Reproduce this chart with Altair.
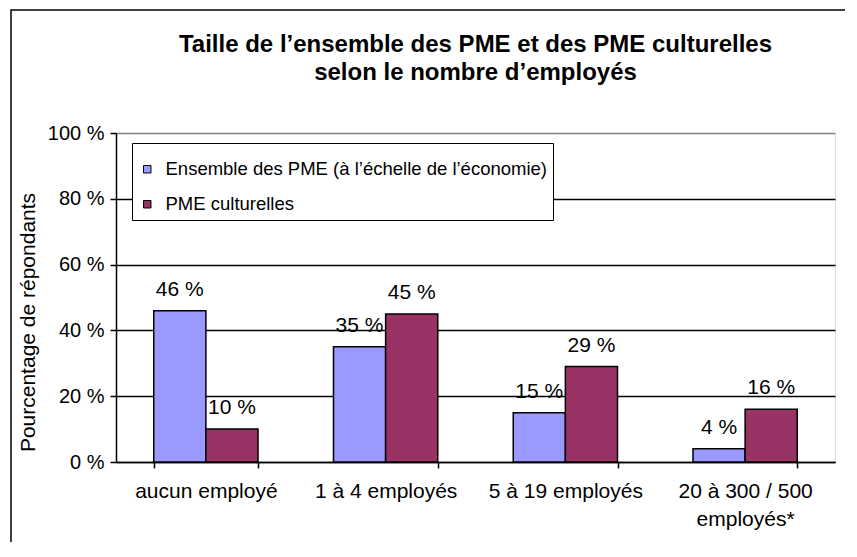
import altair as alt
import pandas as pd

categories = ["aucun employé", "1 à 4 employés", "5 à 19 employés", "20 à 300 / 500 employés*"]
series = ["Ensemble des PME (à l’échelle de l’économie)", "PME culturelles"]
ensemble = [46, 35, 15, 4]
culturelles = [10, 45, 29, 16]
y_ticks = [0, 20, 40, 60, 80, 100]
colors = ["#9999FF", "#993366"]

rows = []
for s, vals in zip(series, [ensemble, culturelles]):
    for c, v in zip(categories, vals):
        rows.append({"cat": c, "serie": s, "val": v, "lbl": f"{v} %"})
df = pd.DataFrame(rows)

FONT = "Liberation Sans"
FS = 20

x_enc = alt.X(
    "cat:N", sort=categories, title=None,
    scale=alt.Scale(paddingInner=0.42, paddingOuter=0.21),
    axis=alt.Axis(
        tickBand="extent", labelAngle=0, grid=False,
        domainColor="black", domainWidth=1.5,
        tickColor="black", tickSize=6, tickWidth=1.5,
        labelFontSize=21, labelFont=FONT, labelColor="black",
        labelPadding=12, labelLineHeight=28, labelLimit=0,
        labelExpr="indexof(datum.label, '/') > 0 ? ['20 à 300 / 500', 'employés*'] : datum.label",
    ),
)
xo_enc = alt.XOffset("serie:N", sort=series, scale=alt.Scale(paddingInner=0))
y_enc = alt.Y(
    "val:Q", scale=alt.Scale(domain=[0, 100], nice=False),
    axis=alt.Axis(
        values=y_ticks, labelExpr="datum.value + ' %'",
        grid=True,
        gridColor={"condition": {"test": "datum.value >= 100", "value": "#808080"}, "value": "black"},
        gridWidth=1.5,
        domainColor="black", domainWidth=1.5,
        tickColor="black", tickSize=6, tickWidth=1.5,
        labelFontSize=FS, labelFont=FONT, labelColor="black", labelPadding=6,
        title="Pourcentage de répondants", titleFontSize=21, titleFont=FONT,
        titleFontWeight="normal", titleColor="black",
        titleX=-88, titleY=189, titleAngle=270, titleAlign="center", titleBaseline="middle",
    ),
)

base = alt.Chart(df)

bars = base.mark_bar(stroke="black", strokeWidth=1.5).encode(
    x=x_enc, xOffset=xo_enc, y=y_enc,
    color=alt.Color(
        "serie:N", sort=series,
        scale=alt.Scale(domain=series, range=colors),
        legend=alt.Legend(
            orient="none", legendX=16, legendY=10, title=" ",
            titleFontSize=1, titlePadding=10,
            strokeColor="black", fillColor="white", padding=6, rowPadding=16,
            symbolType="square", symbolSize=56, symbolStrokeColor="black",
            symbolStrokeWidth=1, labelFontSize=18.5, labelFont=FONT,
            labelColor="black", labelOffset=9, labelLimit=0,
        ),
    ),
)

labels = base.mark_text(dy=-15, baseline="alphabetic", fontSize=21, font=FONT, color="black").encode(
    x=x_enc, xOffset=xo_enc, y=y_enc, text="lbl:N"
)

border = alt.Chart(pd.DataFrame({"a": [0]})).mark_rect(
    fillOpacity=0, stroke="black", strokeWidth=1.5
).encode(
    x=alt.value(-105), x2=alt.value(760), y=alt.value(-123), y2=alt.value(440)
)

chart = alt.layer(border, bars, labels).properties(
    width=719, height=329,
    padding={"left": 108, "top": 125, "right": 10, "bottom": 80},
    autosize=alt.AutoSizeParams(type="none"),
    title=alt.Title(
        text=["Taille de l’ensemble des PME et des PME culturelles", "selon le nombre d’employés"],
        fontSize=24, fontWeight="bold", font=FONT, anchor="middle",
        offset=-76, lineHeight=28, color="black",
    ),
).configure_view(stroke="#808080", strokeWidth=1.5).configure(background="white")

chart.save("out.html", embed_options={"renderer": "svg", "actions": False})
